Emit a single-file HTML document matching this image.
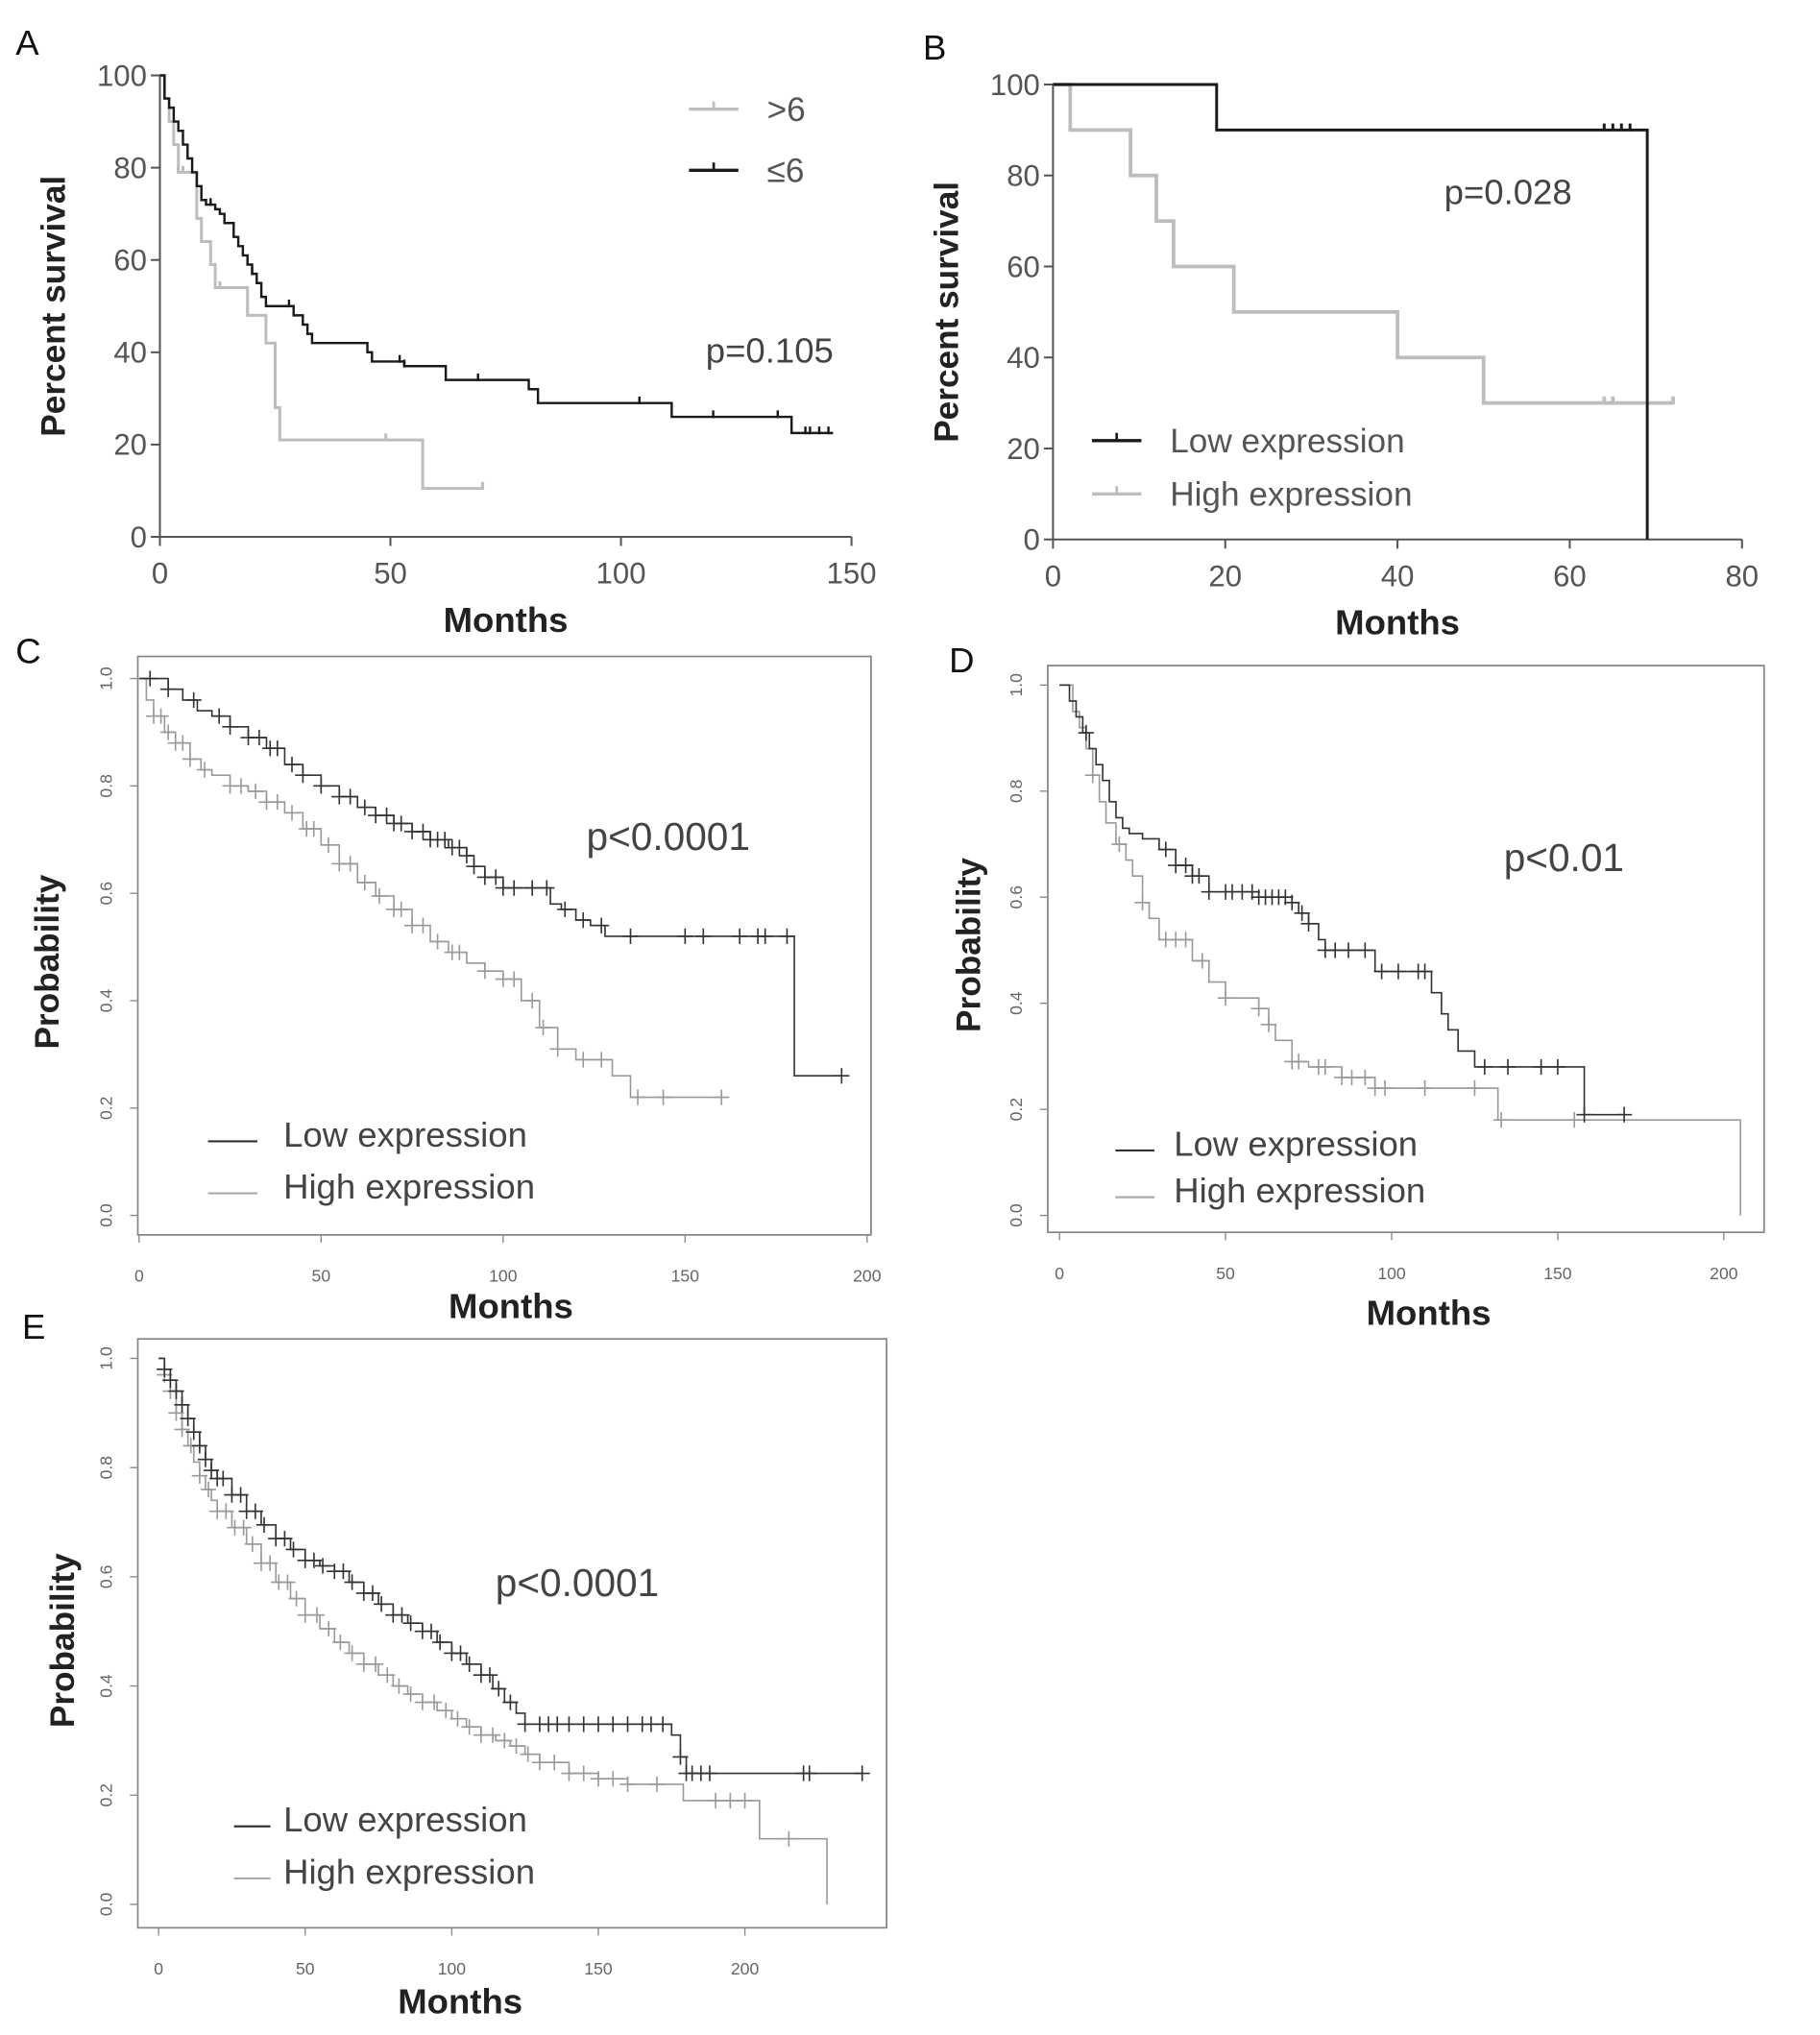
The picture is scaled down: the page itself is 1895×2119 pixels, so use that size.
<!DOCTYPE html>
<html><head><meta charset="utf-8"><title>Survival curves</title>
<style>
html,body{margin:0;padding:0;background:#fff;}
svg{display:block;}
text{font-family:"Liberation Sans",sans-serif;}
</style></head>
<body>
<svg id="fig" xmlns="http://www.w3.org/2000/svg" width="1895" height="2119" viewBox="0 0 1400 1565.5" preserveAspectRatio="none">
<rect x="0" y="0" width="1400" height="1565.5" fill="#fff"/>
</svg>
<script>
// ---------- DATA ----------
const aLowT=[0,1,2,3,4,5,6,7,8,9,10,12,13,14,16,17,18,19,20,21,22,23,29,31,32,33,45,46,53,62,80,82,111,137,146];
const aLowS=[100,95,93,90,88,85,82,79,76,73,72,71,70,68,65,63,61,59,57,55,52,50,48,46,44,42,40,38,37,34,32,29,26,22.5,22.5];
const aLowCens=[11,20,28,52,53,69,104,120,134,140,141,143,145];
const aHighT=[0,1,2,3,4,8,9,11,12,19,23,25,26,57,70];
const aHighS=[100,95,90,85,79,69,64,59,54,48,42,28,21,10.5,10.5];
const aHighCens=[4,5,13,49,70];

const bLowT=[0,19,69,69];
const bLowS=[100,90,90,0];
const bLowCens=[64,65,66,67];
const bHighT=[0,2,9,12,14,21,40,50,72];
const bHighS=[100,90,80,70,60,50,40,30,30];
const bHighCens=[64,65,72];

const cLowT=[0,5,8,12,16,20,25,30,35,40,45,50,55,60,65,70,75,80,85,90,92,95,100,113,116,120,124,128,180,193];
const cLowS=[1,1,0.98,0.96,0.94,0.93,0.91,0.89,0.87,0.84,0.82,0.80,0.78,0.76,0.745,0.73,0.715,0.70,0.685,0.67,0.65,0.63,0.61,0.58,0.57,0.55,0.54,0.52,0.26,0.26];
const cLowCens=[3,8,15,22,25,30,33,36,38,42,45,50,55,58,62,65,68,70,72,75,78,80,82,84,86,88,90,92,95,98,100,103,108,112,117,122,127,135,150,155,165,170,172,178,193];
const cHighT=[0,2,4,7,10,14,17,20,25,30,35,40,45,50,55,60,65,70,75,80,85,90,95,100,105,110,115,120,130,135,160];
const cHighS=[1,0.96,0.93,0.9,0.88,0.85,0.83,0.82,0.80,0.79,0.77,0.75,0.72,0.69,0.655,0.62,0.595,0.57,0.54,0.51,0.49,0.47,0.455,0.44,0.40,0.35,0.31,0.29,0.26,0.22,0.22];
const cHighCens=[4,6,8,10,12,14,18,25,28,32,35,38,42,46,48,52,55,58,62,66,70,72,75,78,82,86,88,95,100,103,108,111,115,122,127,137,144,160];

const dLowT=[0,3,5,7,9,11,13,15,17,19,21,25,30,35,40,45,60,70,72,75,78,80,95,112,115,117,120,125,158,170];
const dLowS=[1,0.97,0.94,0.91,0.88,0.85,0.82,0.78,0.75,0.73,0.72,0.71,0.69,0.66,0.64,0.61,0.60,0.59,0.57,0.55,0.52,0.50,0.46,0.42,0.38,0.35,0.31,0.28,0.19,0.19];
const dLowCens=[8,32,35,38,40,42,45,50,52,55,58,60,62,64,66,68,70,73,75,80,83,87,92,97,102,108,110,128,135,145,150,158,170];
const dHighT=[0,4,6,8,10,12,14,17,20,22,25,27,30,40,45,50,60,63,65,70,75,85,95,132,204,205];
const dHighS=[1,0.95,0.92,0.88,0.83,0.78,0.74,0.70,0.67,0.64,0.59,0.56,0.52,0.48,0.44,0.41,0.39,0.36,0.33,0.29,0.28,0.26,0.24,0.18,0.18,0];
const dHighCens=[10,18,25,32,35,38,43,50,60,63,70,72,78,80,85,88,92,95,98,110,125,133,155];

const eLowT=[0,2,4,6,8,10,12,14,16,18,20,25,30,35,40,45,50,55,60,65,70,75,80,85,90,95,100,105,110,114,118,122,125,175,178,180,240];
const eLowS=[1,0.98,0.96,0.94,0.915,0.89,0.865,0.84,0.815,0.795,0.78,0.75,0.72,0.695,0.67,0.65,0.63,0.62,0.61,0.59,0.57,0.55,0.53,0.515,0.50,0.48,0.46,0.44,0.42,0.395,0.37,0.35,0.33,0.31,0.27,0.24,0.24];
const eLowCens=[2,4,6,8,10,12,14,16,18,20,22,25,28,30,33,36,40,43,46,50,53,56,60,63,66,70,73,76,80,83,86,90,93,96,100,103,106,110,113,116,120,125,130,133,136,140,145,150,155,160,165,168,172,178,180,182,185,188,220,222,240];
const eHighT=[0,2,4,6,8,10,12,14,16,18,20,25,30,35,40,45,50,55,60,65,70,75,80,85,90,95,100,105,110,115,120,125,130,140,150,160,178,179,205,228,228];
const eHighS=[1,0.97,0.94,0.90,0.87,0.84,0.81,0.785,0.76,0.74,0.72,0.69,0.66,0.625,0.59,0.56,0.53,0.505,0.48,0.46,0.44,0.42,0.40,0.385,0.37,0.355,0.34,0.325,0.31,0.30,0.29,0.275,0.26,0.24,0.23,0.22,0.22,0.19,0.12,0.12,0];
const eHighCens=[2,4,6,8,11,14,17,20,23,26,29,32,35,38,41,44,47,50,54,58,62,66,70,74,78,82,86,90,94,98,102,106,110,114,118,122,126,130,135,140,145,150,155,160,170,190,195,200,215];

const aYTicks=[0,20,40,60,80,100];
const aXTicks=[0,50,100,150];
const bYTicks=[0,20,40,60,80,100];
const bXTicks=[0,20,40,60,80];
const pTicks=[0.0,0.2,0.4,0.6,0.8,1.0];
const cdeXTicks=[0,50,100,150,200];

// ---------- DRAWING ----------
const NS='http://www.w3.org/2000/svg';
const svg=document.getElementById('fig');
function mk(tag,attrs,parent){const e=document.createElementNS(NS,tag);for(const k in attrs)e.setAttribute(k,attrs[k]);(parent||svg).appendChild(e);return e;}
function txt(s,attrs,parent){const e=mk('text',attrs,parent);e.textContent=s;return e;}
function scale(d0,d1,p0,p1){return v=>p0+(v-d0)/(d1-d0)*(p1-p0);}
function stepAt(T,S,t){let v=S[0];for(let i=0;i<T.length;i++){if(T[i]<=t)v=S[i];}return v;}

function drawSeries(g,T,S,cens,sx,sy,color,w,cs,name){
  let d='M'+sx(T[0])+' '+sy(S[0]);
  for(let i=1;i<T.length;i++){d+=' H'+sx(T[i])+' V'+sy(S[i]);}
  const p=mk('path',{d:d,fill:'none',stroke:color,'stroke-width':w},g);
  
  
  cens.forEach(t=>{
    const x=sx(t),y=sy(stepAt(T,S,t));
    const c=mk('path',{d:'M'+x+' '+(y-cs)+' V'+(y+(cs>5?cs:1))+(cs>5?' M'+(x-cs)+' '+y+' H'+(x+cs):''),stroke:color,'stroke-width':w,fill:'none'},g);
    
    
  });
}

function prismPanel(o){
  const g=mk('g',{});
  
  
  const sx=scale(o.xd[0],o.xd[1],o.x0,o.x1), sy=scale(0,100,o.y0,o.y1);
  mk('path',{d:'M'+o.x0+' '+o.y1+' V'+o.y0+' H'+o.x1,stroke:'#555','stroke-width':1.5,fill:'none'},g);
  o.yt.forEach(v=>{mk('line',{x1:o.x0-7,x2:o.x0,y1:sy(v),y2:sy(v),stroke:'#555','stroke-width':1.5},g);
    const t=txt(String(v),{x:o.x0-10,y:sy(v)+8,'text-anchor':'end','font-size':23,fill:'#555'},g);
    });
  o.xt.forEach(v=>{mk('line',{x1:sx(v),x2:sx(v),y1:o.y0,y2:o.y0+7,stroke:'#555','stroke-width':1.5},g);
    const t=txt(String(v),{x:sx(v),y:o.y0+36,'text-anchor':'middle','font-size':23,fill:'#555'},g);
    });
  const xt=txt('Months',{x:(o.x0+o.x1)/2,y:o.y0+73,'text-anchor':'middle','font-size':27,'font-weight':'bold',fill:'#222'},g);
  
  const yt=txt('Percent survival',{x:0,y:0,'text-anchor':'middle','font-size':26,'font-weight':'bold',fill:'#222',transform:'translate('+(o.ytx)+','+((o.y0+o.y1)/2)+') rotate(-90)'},g);
  
  const lt=txt(o.letter,{x:o.lx,y:o.ly,'font-size':27,fill:'#111'},g);
  
  const pv=txt(o.p,{x:o.px,y:o.py,'text-anchor':'middle','font-size':27,fill:'#444'},g);
  
  o.series.forEach(s=>drawSeries(g,s.T,s.S,s.C,sx,sy,s.color,s.w,5,s.name));
  o.legend.forEach(l=>{
    const lg=mk('g',{},g);
    
    
    mk('line',{x1:l.x,x2:l.x+38,y1:l.y,y2:l.y,stroke:l.color,'stroke-width':2.5},lg);
    mk('line',{x1:l.x+19,x2:l.x+19,y1:l.y-6,y2:l.y,stroke:l.color,'stroke-width':2},lg);
    txt(l.label,{x:l.tx,y:l.y+9,'font-size':26,fill:'#555'},lg);
  });
}

prismPanel({name:'panel-a',letter:'A',lx:12,ly:42,x0:123,x1:655,y0:413,y1:58,xd:[0,150],yt:aYTicks,xt:aXTicks,ytx:50,
  p:'p=0.105',px:592,py:279,
  series:[{T:aHighT,S:aHighS,C:aHighCens,color:'#bdbdbd',w:2.2,name:'gt6'},{T:aLowT,S:aLowS,C:aLowCens,color:'#1a1a1a',w:1.8,name:'le6'}],
  legend:[{x:530,y:84,color:'#bdbdbd',label:'>6',tx:590},{x:530,y:131,color:'#1a1a1a',label:'≤6',tx:590}]});
prismPanel({name:'panel-b',letter:'B',lx:710,ly:46,x0:810,x1:1340,y0:415,y1:65,xd:[0,80],yt:bYTicks,xt:bXTicks,ytx:737,
  p:'p=0.028',px:1160,py:157,
  series:[{T:bHighT,S:bHighS,C:bHighCens,color:'#bdbdbd',w:2.8,name:'high-expression'},{T:bLowT,S:bLowS,C:bLowCens,color:'#1a1a1a',w:2.2,name:'low-expression'}],
  legend:[{x:840,y:339,color:'#1a1a1a',label:'Low expression',tx:900},{x:840,y:380,color:'#bdbdbd',label:'High expression',tx:900}]});

function rPanel(o){
  const g=mk('g',{});
  
  
  const sx=scale(0,200,o.x0,o.x200), sy=scale(0,1,o.y0,o.y1);
  mk('rect',{x:o.bx0,y:o.by0,width:o.bx1-o.bx0,height:o.by1-o.by0,fill:'none',stroke:'#888','stroke-width':1.3},g);
  pTicks.forEach(v=>{mk('line',{x1:o.bx0-6,x2:o.bx0,y1:sy(v),y2:sy(v),stroke:'#888','stroke-width':1},g);
    const t=txt(v.toFixed(1),{x:0,y:0,'text-anchor':'middle','font-size':13,fill:'#666',transform:'translate('+(o.bx0-20)+','+sy(v)+') rotate(-90)'},g);
    });
  cdeXTicks.forEach(v=>{mk('line',{x1:sx(v),x2:sx(v),y1:o.by1,y2:o.by1+6,stroke:'#888','stroke-width':1},g);
    const t=txt(String(v),{x:sx(v),y:o.by1+36,'text-anchor':'middle','font-size':13,fill:'#666'},g);
    });
  const xt=txt('Months',{x:o.mx,y:o.my,'text-anchor':'middle','font-size':27,'font-weight':'bold',fill:'#222'},g);
  
  const yt=txt('Probability',{x:0,y:0,'text-anchor':'middle','font-size':26,'font-weight':'bold',fill:'#222',transform:'translate('+o.ytx+','+o.yty+') rotate(-90)'},g);
  
  const lt=txt(o.letter,{x:o.lx,y:o.ly,'font-size':27,fill:'#111'},g);
  
  const pv=txt(o.p,{x:o.px,y:o.py,'text-anchor':'middle','font-size':30,fill:'#444'},g);
  
  drawSeries(g,o.hT,o.hS,o.hC,sx,sy,'#9a9a9a',1.2,6,'high-expression');
  drawSeries(g,o.lT,o.lS,o.lC,sx,sy,'#333',1.2,6,'low-expression');
  [{y:o.ly1,c:'#333',l:'Low expression'},{y:o.ly2,c:'#aaa',l:'High expression'}].forEach(l=>{
    const lg=mk('g',{},g);
    
    
    mk('line',{x1:o.legx,x2:o.legx+o.legw,y1:l.y+6,y2:l.y+6,stroke:l.c,'stroke-width':1.6},lg);
    txt(l.l,{x:o.legtx,y:l.y+10,'font-size':27,fill:'#444'},lg);
  });
}
rPanel({name:'panel-c',letter:'C',lx:12,ly:510,bx0:106,bx1:670,by0:505,by1:950,x0:107,x200:667,y0:935,y1:522,
  mx:393,my:1014,ytx:45,yty:740,p:'p<0.0001',px:514,py:654,legx:160,legw:38,legtx:218,ly1:872,ly2:912,
  lT:cLowT,lS:cLowS,lC:cLowCens,hT:cHighT,hS:cHighS,hC:cHighCens});
rPanel({name:'panel-d',letter:'D',lx:730,ly:517,bx0:806,bx1:1357,by0:512,by1:948,x0:815,x200:1326,y0:935,y1:527,
  mx:1099,my:1019,ytx:754,yty:727,p:'p<0.01',px:1203,py:670,legx:858,legw:30,legtx:903,ly1:879,ly2:915,
  lT:dLowT,lS:dLowS,lC:dLowCens,hT:dHighT,hS:dHighS,hC:dHighCens});
rPanel({name:'panel-e',letter:'E',lx:17,ly:1030,bx0:106,bx1:682,by0:1030,by1:1483,x0:122,x200:573,y0:1465,y1:1045,
  mx:354,my:1549,ytx:57,yty:1262,p:'p<0.0001',px:444,py:1228,legx:180,legw:28,legtx:218,ly1:1399,ly2:1439,
  lT:eLowT,lS:eLowS,lC:eLowCens,hT:eHighT,hS:eHighS,hC:eHighCens});
</script>
</body></html>
